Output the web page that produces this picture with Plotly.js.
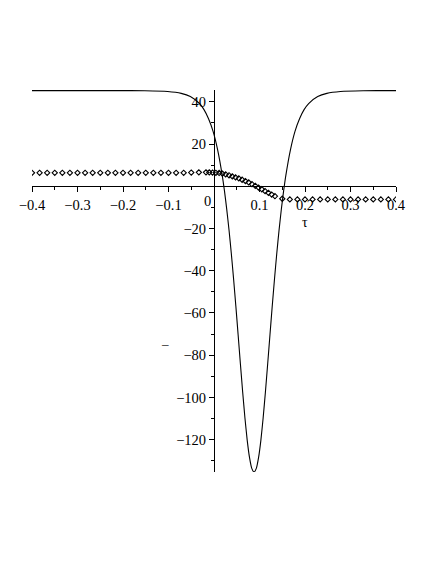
<!DOCTYPE html>
<html>
<head>
<meta charset="utf-8">
<script src="https://cdn.plot.ly/plotly-3.0.1.min.js"></script>
<style>html,body{margin:0;padding:0;background:#fff;}#chart{width:436px;height:564px;}</style>
</head>
<body>
<div id="chart"></div>
<script>
// Solid curve
const curveX = [-0.4, -0.212, -0.152, -0.102, -0.072, -0.052, -0.032, -0.022, -0.012, -0.002,
  0.008, 0.018, 0.023, 0.028, 0.033, 0.038, 0.043, 0.048, 0.053, 0.058, 0.063, 0.068, 0.073, 0.078, 0.083,
  0.088,
  0.093, 0.098, 0.103, 0.108, 0.113, 0.118, 0.123, 0.128, 0.133, 0.138, 0.143, 0.148, 0.153, 0.158, 0.168,
  0.178, 0.188, 0.198, 0.208, 0.228, 0.248, 0.278, 0.328, 0.388, 0.4];
const curveY = [45.3, 45.3, 45.25, 44.9, 44.0, 42.5, 39.2, 36.3, 32.0, 26.0,
  17.3, 5.3, -2.2, -10.9, -20.7, -31.7, -43.8, -56.7, -70.3, -84.0, -97.4, -109.7, -120.3, -128.4, -133.6,
  -135.3,
  -133.6, -128.4, -120.3, -109.7, -97.4, -84.0, -70.3, -56.7, -43.8, -31.7, -20.7, -10.9, -2.2, 5.3, 17.3,
  26.0, 32.0, 36.3, 39.2, 42.5, 44.0, 44.9, 45.25, 45.3, 45.3];

// Diamond point series
const pointsX = [-0.4, -0.3833, -0.3667, -0.35, -0.3333, -0.3167, -0.3, -0.2833, -0.2667, -0.25,
  -0.2333, -0.2167, -0.2, -0.1833, -0.1667, -0.15, -0.1333, -0.1167, -0.1, -0.0833, -0.0667, -0.05, -0.0333,
  -0.0176, -0.0104, -0.0032, 0.0041, 0.0113, 0.0185, 0.0257, 0.0330, 0.0402, 0.0474, 0.0546, 0.0618,
  0.0690, 0.0763, 0.0835, 0.0907, 0.0979, 0.1051, 0.1123, 0.1196, 0.1268, 0.1340,
  0.15, 0.1667, 0.1833, 0.2, 0.2167, 0.2333, 0.25, 0.2667, 0.2833, 0.3, 0.3167, 0.3333, 0.35, 0.3667, 0.3833, 0.4];
const pointsY = [6.4, 6.4, 6.4, 6.4, 6.4, 6.4, 6.4, 6.4, 6.4, 6.4,
  6.4, 6.4, 6.4, 6.4, 6.4, 6.4, 6.4, 6.4, 6.4, 6.4, 6.4, 6.5, 6.6,
  6.6, 6.6, 6.5, 6.4, 6.3, 6.0, 5.6, 5.2, 4.7, 4.2, 3.7, 3.1, 2.5, 1.8, 1.0, 0.2, -0.6, -1.4, -2.3, -3.1, -3.9, -4.7,
  -5.9, -6.2, -6.2, -6.2, -6.2, -6.2, -6.2, -6.2, -6.2, -6.2, -6.2, -6.2, -6.2, -6.2, -6.2, -6.2];

const xTicks = [-0.4, -0.3, -0.2, -0.1, 0.1, 0.2, 0.3, 0.4];
const yTicks = [-120, -100, -80, -60, -40, -20, 20, 40];
const xRange = [-0.4, 0.4];
const yRange = [-135.3, 45.6];

const serif = 'Liberation Serif, Times New Roman, serif';

const traces = [
  {x: curveX, y: curveY, type: 'scatter', mode: 'lines',
   line: {color: '#000', width: 1.1, shape: 'spline', smoothing: 0.5}, hoverinfo: 'skip'},
  {x: pointsX, y: pointsY, type: 'scatter', mode: 'markers',
   marker: {symbol: 'diamond-open', size: 4, color: '#000', line: {width: 1.1, color: '#000'}}, hoverinfo: 'skip'}
];

const layout = {
  width: 436, height: 564,
  margin: {l: 32, r: 40, t: 90, b: 92},
  paper_bgcolor: '#fff', plot_bgcolor: '#fff',
  showlegend: false,
  font: {family: serif, size: 14, color: '#000'},
  xaxis: {
    range: xRange, anchor: 'free',
    position: (0 - yRange[0]) / (yRange[1] - yRange[0]),
    showline: true, linecolor: '#000', linewidth: 1,
    showgrid: false, zeroline: false,
    tickmode: 'array', tickvals: xTicks, ticktext: xTicks.map(v => (v < 0 ? '\u2212' : '') + Math.abs(v).toFixed(1)),
    ticks: 'outside', ticklen: 5, tickwidth: 1, tickcolor: '#000',
    minor: {dtick: 0.05, tick0: 0, ticks: 'outside', ticklen: 3, tickcolor: '#000', tickwidth: 1, showgrid: false},
    tickfont: {family: serif, size: 14.5, color: '#000'}
  },
  yaxis: {
    range: yRange, anchor: 'free',
    position: (0 - xRange[0]) / (xRange[1] - xRange[0]),
    showline: true, linecolor: '#000', linewidth: 1,
    showgrid: false, zeroline: false,
    tickmode: 'array', tickvals: yTicks, ticktext: yTicks.map(v => (v < 0 ? '\u2212' : '') + Math.abs(v)),
    ticks: 'outside', ticklen: 5, tickwidth: 1, tickcolor: '#000',
    minor: {dtick: 10, tick0: 0, ticks: 'outside', ticklen: 3, tickcolor: '#000', tickwidth: 1, showgrid: false},
    tickfont: {family: serif, size: 14.5, color: '#000'}
  },
  annotations: [
    {x: 0, y: 0, xref: 'x', yref: 'y', text: '0', showarrow: false,
     xanchor: 'right', yanchor: 'top', xshift: -1, yshift: -5, font: {family: serif, size: 14.5, color: '#000'}},
    {x: 0.2, y: -17.2, xref: 'x', yref: 'y', text: '\u03c4', showarrow: false,
     font: {family: serif, size: 14, color: '#000'}},
    {x: -0.108, y: -74.6, xref: 'x', yref: 'y', text: '\u2013', showarrow: false,
     font: {family: serif, size: 13, color: '#000'}}
  ]
};

Plotly.newPlot('chart', traces, layout, {staticPlot: true, displayModeBar: false});
</script>
</body>
</html>
